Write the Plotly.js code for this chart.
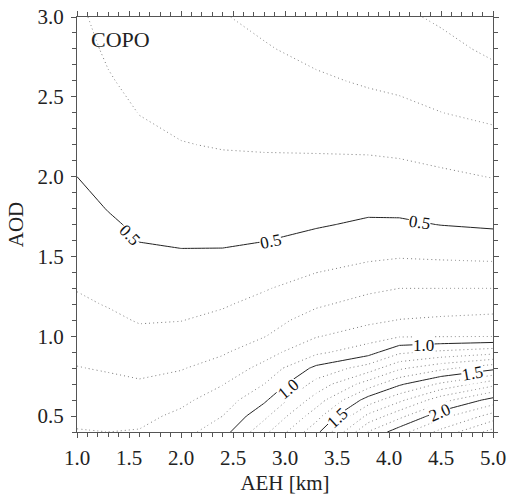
<!DOCTYPE html>
<html>
<head>
<meta charset="utf-8">
<script src="https://cdn.plot.ly/plotly-3.0.1.min.js"></script>
<style>html,body{margin:0;padding:0;background:#fff;}#chart{width:510px;height:496px;}</style>
</head>
<body>
<div id="chart"></div>
<script>
// AEH (km) grid columns
const aeh = [1.0, 1.3, 1.6, 2.0, 2.4, 2.8, 3.3, 3.8, 4.1, 4.5, 5.0];
// AOD grid rows
const aod = [0.4, 0.5, 0.6, 0.7, 0.8, 0.9, 1.0, 1.1, 1.2, 1.3, 1.4, 1.5, 1.6, 1.7, 1.8, 2.0, 2.2, 2.4, 2.6, 2.8, 3.0];
// field values, one row per AOD value
const z04 = [0.805,0.800,0.806,0.862,0.960,1.170,1.470,1.905,2.060,2.230,2.440];
const z05 = [0.780,0.774,0.774,0.821,0.900,1.075,1.359,1.725,1.868,2.068,2.240];
const z06 = [0.754,0.747,0.742,0.778,0.848,0.982,1.247,1.545,1.676,1.860,2.040];
const z07 = [0.728,0.719,0.710,0.735,0.796,0.900,1.136,1.348,1.484,1.618,1.765];
const z08 = [0.703,0.693,0.679,0.694,0.740,0.830,1.025,1.146,1.282,1.372,1.469];
const z09 = [0.680,0.668,0.650,0.662,0.689,0.760,0.878,0.959,1.081,1.121,1.163];
const z10 = [0.659,0.643,0.621,0.629,0.656,0.696,0.794,0.850,0.891,0.894,0.896];
const z11 = [0.637,0.618,0.594,0.598,0.622,0.661,0.739,0.780,0.803,0.814,0.825];
const z12 = [0.615,0.595,0.575,0.576,0.591,0.627,0.687,0.732,0.751,0.755,0.761];
const z13 = [0.596,0.578,0.555,0.553,0.564,0.593,0.642,0.682,0.700,0.700,0.700];
const z14 = [0.582,0.562,0.536,0.531,0.537,0.561,0.599,0.630,0.646,0.643,0.639];
const z15 = [0.568,0.545,0.517,0.509,0.511,0.528,0.561,0.585,0.594,0.588,0.582];
const z16 = [0.555,0.528,0.498,0.491,0.490,0.498,0.524,0.549,0.553,0.542,0.531];
const z17 = [0.541,0.512,0.486,0.476,0.474,0.480,0.492,0.513,0.513,0.498,0.488];
const z18 = [0.527,0.497,0.473,0.462,0.458,0.461,0.471,0.484,0.482,0.471,0.458];
const z20 = [0.500,0.474,0.448,0.432,0.426,0.425,0.429,0.434,0.430,0.416,0.397];
const z22 = [0.484,0.452,0.423,0.403,0.395,0.392,0.389,0.384,0.377,0.359,0.334];
const z24 = [0.468,0.430,0.398,0.380,0.373,0.363,0.351,0.335,0.322,0.301,0.279];
const z26 = [0.452,0.408,0.373,0.359,0.350,0.335,0.313,0.290,0.281,0.263,0.231];
const z28 = [0.436,0.386,0.348,0.337,0.327,0.307,0.276,0.252,0.248,0.225,0.183];
const z30 = [0.420,0.363,0.323,0.315,0.305,0.279,0.238,0.215,0.216,0.187,0.136];
const zGrid = [z04,z05,z06,z07,z08,z09,z10,z11,z12,z13,z14,z15,z16,z17,z18,z20,z22,z24,z26,z28,z30];

// dotted level bands (between labelled solid levels) and solid labelled levels
const dottedBands = [[0.1,0.4],[0.6,0.9],[1.1,1.4],[1.6,1.9],[2.1,2.4]];
const solidLevels = [0.5, 2.0, 0.5];
// contour label texts and where they sit on the solid lines
const labelText = ['0.5','0.5','0.5','1.0','1.0','1.5','1.5','2.0'];
const labelAEH  = [1.50, 2.86, 4.29, 3.03, 4.33, 3.50, 4.80, 4.49];
const labelAOD  = [1.635,1.595,1.715,0.665,0.945,0.485,0.765,0.525];
const labelTilt = [46, -12, 8, -40, 0, -43, -10, -24];
const xTicks = [1.0,1.5,2.0,2.5,3.0,3.5,4.0,4.5,5.0];
const yTicks = [0.5,1.0,1.5,2.0,2.5,3.0];
const panelName = 'COPO';

const serif = 'Liberation Serif';
const traces = [];
dottedBands.forEach(b => {
  traces.push({
    type: 'contour', x: aeh, y: aod, z: zGrid,
    showscale: false, hoverinfo: 'skip',
    contours: {coloring: 'none', start: b[0], end: b[1] + 0.001, size: 0.1, showlabels: false},
    line: {color: '#808080', width: 1, dash: '1px,3px', smoothing: 0}
  });
});
traces.push({
  type: 'contour', x: aeh, y: aod, z: zGrid,
  showscale: false, hoverinfo: 'skip',
  contours: {coloring: 'none', start: solidLevels[0], end: solidLevels[1] + 0.001, size: solidLevels[2], showlabels: false},
  line: {color: '#222', width: 1, smoothing: 0}
});

const axisCommon = {
  showline: true, linecolor: '#555', linewidth: 1, mirror: 'ticks',
  ticks: 'outside', ticklen: 5, tickcolor: '#555', tickwidth: 1,
  showgrid: false, zeroline: false,
  tickfont: {family: serif, size: 21, color: '#222'},
  tickformat: '.1f',
  minor: {dtick: 0.1, ticks: 'outside', ticklen: 4, tickcolor: '#555', showgrid: false}
};

const annotations = [{
  text: panelName, xref: 'x', yref: 'y', x: 1.12, y: 2.86,
  xanchor: 'left', yanchor: 'middle', showarrow: false,
  font: {family: serif, size: 22, color: '#222'}
}];
labelText.forEach((t, i) => {
  annotations.push({
    text: t, xref: 'x', yref: 'y', x: labelAEH[i], y: labelAOD[i],
    showarrow: false, textangle: labelTilt[i], bgcolor: '#fff', borderpad: 0,
    xanchor: 'center', yanchor: 'middle',
    font: {family: serif, size: 17, color: '#111'}
  });
});

const layout = {
  width: 510, height: 496,
  margin: {l: 77, r: 17, t: 17, b: 64},
  paper_bgcolor: '#fff', plot_bgcolor: '#fff',
  showlegend: false,
  xaxis: Object.assign({}, axisCommon, {
    range: [1.0, 5.0], tickvals: xTicks, ticklabelstandoff: 2,
    title: {text: 'AEH [km]', font: {family: serif, size: 21, color: '#222'}, standoff: 6}
  }),
  yaxis: Object.assign({}, axisCommon, {
    range: [0.4, 3.0], tickvals: yTicks, ticklabelstandoff: 3,
    title: {text: 'AOD', font: {family: serif, size: 21, color: '#222'}, standoff: 8}
  }),
  annotations: annotations
};

Plotly.newPlot('chart', traces, layout, {staticPlot: true, displayModeBar: false});
</script>
</body>
</html>
